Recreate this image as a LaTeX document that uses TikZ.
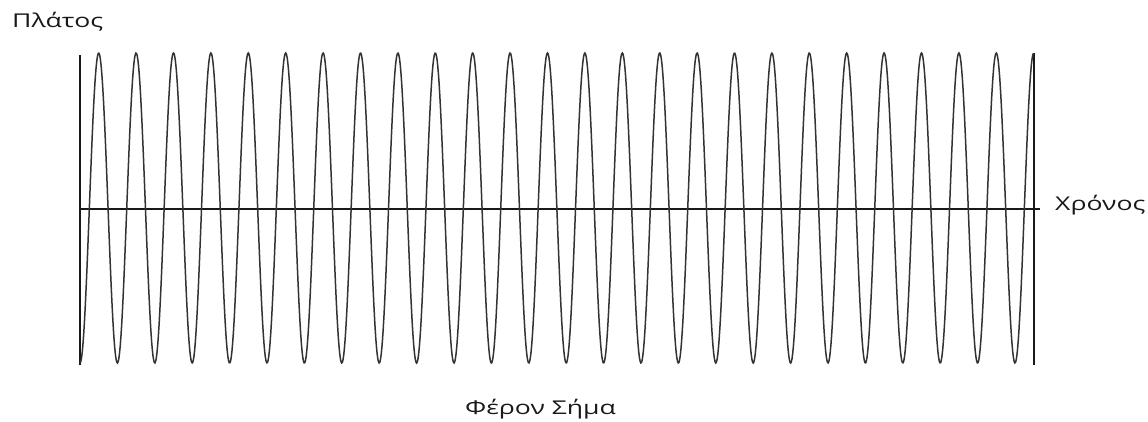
\documentclass[tikz,border=0pt]{standalone}
\usepackage{fontspec}
\setmainfont{Open Sans}
\begin{document}
\begin{tikzpicture}[x=1pt,y=-1pt,
  axisline/.style={line width=1.5pt,black!90},
  wave/.style={line width=1.5pt,black!80},
  lbl/.style={inner sep=0pt,text=black!90,font=\fontsize{19}{21}\selectfont}]
\useasboundingbox (0,0) rectangle (1148,422);
\coordinate (ltop) at (80,55);
\coordinate (lbot) at (80,365);
\coordinate (rtop) at (1034,53);
\coordinate (rbot) at (1034,365);
\coordinate (hl) at (80,209);
\coordinate (hr) at (1040,209);
\draw[axisline] (ltop) -- (lbot);
\draw[axisline] (rtop) -- (rbot);
\draw[axisline] (hl) -- (hr);
\draw[wave] plot[domain=0:25.5,samples=1400,variable=\t] ({80+37.4*\t},{208+155*cos(360*\t)});
\node[lbl,anchor=west] (amp) at (12,22) {\scalebox{1.4}[1]{Πλάτος}};
\node[lbl,anchor=west] (time) at (1055,205) {\scalebox{1.4}[1]{Χρόνος}};
\node[lbl] (title) at (540.5,409) {\scalebox{1.4}[1]{Φέρον Σήμα}};
\end{tikzpicture}
\end{document}
